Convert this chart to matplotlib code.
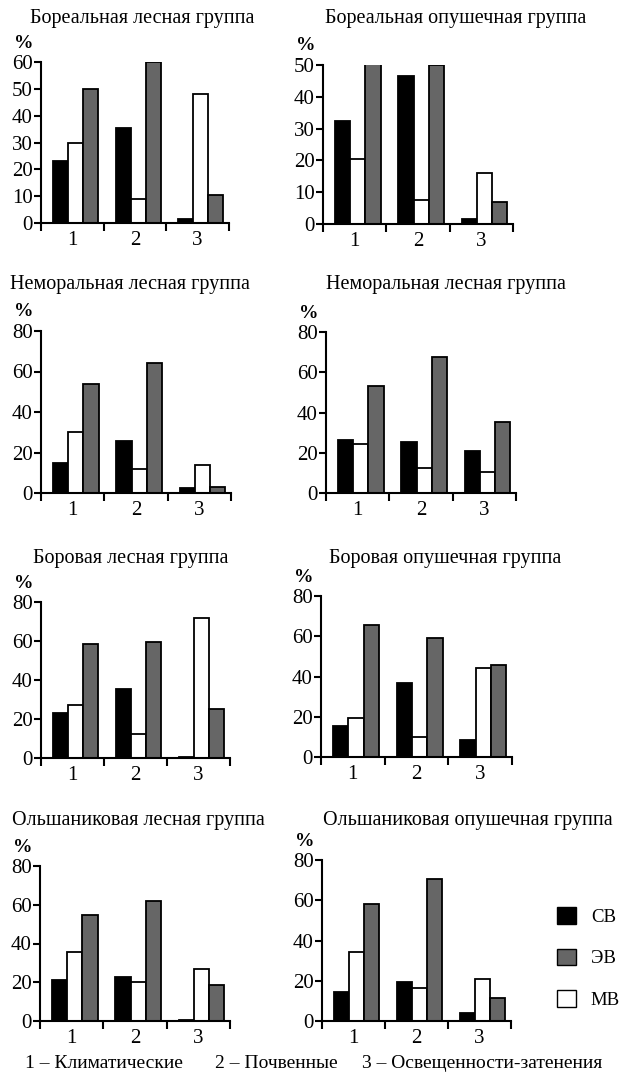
import numpy as np
import matplotlib.pyplot as plt
from matplotlib.patches import Patch

plt.rcParams['font.family'] = ['Liberation Serif', 'DejaVu Serif']

W, H = 623, 1078

groups = ['1', '2', '3']
titles = ['Бореальная лесная группа', 'Бореальная опушечная группа',
          'Неморальная лесная группа', 'Неморальная лесная группа',
          'Боровая лесная группа', 'Боровая опушечная группа',
          'Ольшаниковая лесная группа', 'Ольшаниковая опушечная группа']

# values per panel for groups 1, 2, 3
sv = [[23, 35.5, 1.5], [32.5, 46.5, 1.5], [15, 25.5, 2.5], [26.5, 25.5, 21],
      [23, 35.5, 0.5], [15.5, 37, 8.5], [21, 22.5, 0.5], [14.5, 19.5, 4]]
mv = [[30, 9, 48], [20.5, 7.5, 16], [30, 12, 14], [24.5, 12.5, 10.5],
      [27, 12.5, 72], [19.5, 10, 44], [35.5, 20, 27], [34.5, 16.5, 21]]
ev = [[50, 60, 10.5], [50.5, 50, 7], [54, 64, 3], [53, 67.5, 35.5],
      [58.5, 59.5, 25], [65.5, 59, 45.5], [54.5, 62, 18.5], [58, 70.5, 11.5]]
ymax = [60, 50, 80, 80, 80, 80, 80, 80]
ystep = [10, 10, 20, 20, 20, 20, 20, 20]

# axes boxes in pixels: left, right, top, bottom
boxes = [(41, 229, 62, 223), (323, 513, 65, 224),
         (41, 231, 331, 493), (326, 516, 332, 493),
         (41, 230, 602, 758), (321, 512, 596, 757),
         (40, 230, 866, 1021), (322, 511, 860, 1021)]
title_pos = [(142, 19), (456, 19), (130, 285), (446, 285),
             (131, 558), (445, 558), (138, 820), (468, 820)]

fig = plt.figure(figsize=(W / 100, H / 100), dpi=100)

x = np.arange(len(groups))
bw = 0.24
sh = 0.05
for i in range(8):
    l, r, t, b = boxes[i]
    ax = fig.add_axes([l / W, 1 - b / H, (r - l) / W, (b - t) / H])
    ax.bar(x - bw + sh, sv[i], bw, color='black', edgecolor='black', linewidth=1.3)
    ax.bar(x + sh, mv[i], bw, color='white', edgecolor='black', linewidth=1.3)
    ax.bar(x + bw + sh, ev[i], bw, color='#666666', edgecolor='black', linewidth=1.3)
    ax.set_xlim(-0.5, 2.5)
    ax.set_ylim(0, ymax[i])
    ax.set_yticks(np.arange(0, ymax[i] + 1, ystep[i]))
    ax.set_xticks([-0.5, 0.5, 1.5, 2.5])
    ax.set_xticklabels([])
    ax.set_xticks(x, groups, minor=True)
    ax.tick_params(axis='x', which='major', direction='out', length=6, width=1.5)
    ax.tick_params(axis='x', which='minor', length=0, labelsize=15, pad=6)
    ax.tick_params(axis='y', direction='out', length=5, width=1.5, labelsize=15, pad=1)
    for s in ['top', 'right']:
        ax.spines[s].set_visible(False)
    for s in ['left', 'bottom']:
        ax.spines[s].set_linewidth(1.5)
    ax.annotate('%', xy=(0, 1), xycoords='axes fraction', xytext=(-17, 19),
                textcoords='offset pixels', ha='center', va='center',
                fontsize=14, fontweight='bold')
    tx, ty = title_pos[i]
    fig.text(tx / W, 1 - ty / H, titles[i], ha='center', va='center', fontsize=14.5)

handles = [Patch(facecolor='black', edgecolor='black', label='СВ'),
           Patch(facecolor='#666666', edgecolor='black', label='ЭВ'),
           Patch(facecolor='white', edgecolor='black', label='МВ')]
fig.legend(handles=handles, loc='center left', bbox_to_anchor=(557 / W, 1 - 958 / H),
           frameon=False, fontsize=13.5, handlelength=1.0, handleheight=1.0,
           labelspacing=1.2, handletextpad=0.8, borderpad=0, borderaxespad=0)

fig.text(25 / W, 1 - 1063 / H, '1 – Климатические', ha='left', va='center', fontsize=14)
fig.text(215 / W, 1 - 1063 / H, '2 – Почвенные', ha='left', va='center', fontsize=14)
fig.text(362 / W, 1 - 1063 / H, '3 – Освещенности-затенения', ha='left', va='center', fontsize=14)

fig.savefig('out.png', dpi=100)
